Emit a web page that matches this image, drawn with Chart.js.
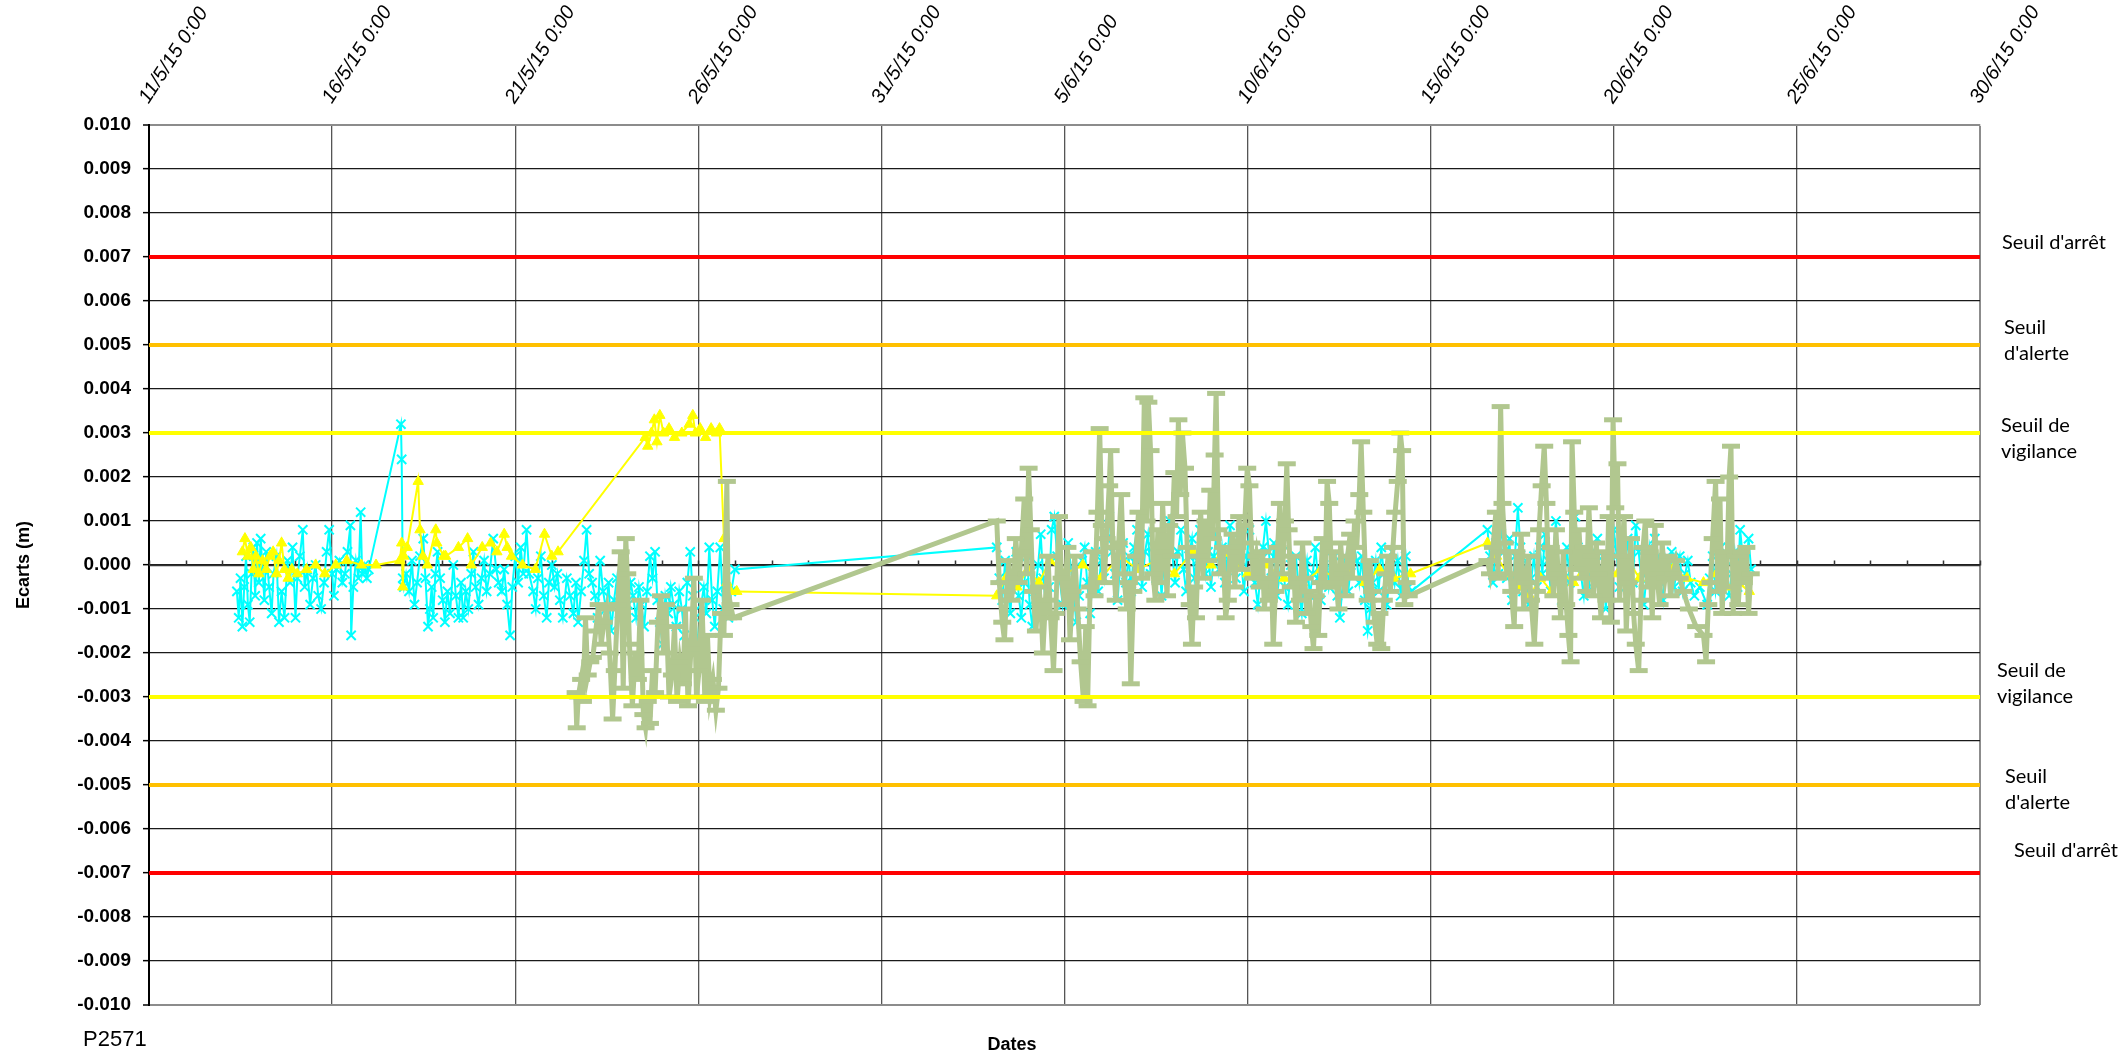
<!DOCTYPE html>
<html>
<head>
<meta charset="utf-8">
<script src="https://cdn.jsdelivr.net/npm/chart.js@4.4.1/dist/chart.umd.min.js"></script>
<style>
  body { margin: 0; background: #fff; }
  canvas { display: block; }
</style>
</head>
<body>
<canvas id="ecartsChart" width="2123" height="1054"></canvas>
<script>
// x = days since 11/5/15 0:00, y = ecart (m)
const dateLabels = ['11/5/15 0:00', '16/5/15 0:00', '21/5/15 0:00', '26/5/15 0:00', '31/5/15 0:00',
  '5/6/15 0:00', '10/6/15 0:00', '15/6/15 0:00', '20/6/15 0:00', '25/6/15 0:00', '30/6/15 0:00'];

const seuilArret = 0.007;
const seuilAlerte = 0.005;
const seuilVigilance = 0.003;

const cyanPoints = [
  [2.40,-0.0006],[2.45,-0.0012],[2.50,-0.0003],[2.55,-0.0014],[2.60,-0.0005],[2.65,0.0002],[2.70,-0.0009],[2.75,-0.0013],
  [2.80,-0.0002],[2.85,0.0004],[2.90,-0.0007],[2.95,0.0005],[3.00,-0.0004],[3.05,0.0006],[3.10,-0.0001],[3.15,-0.0008],
  [3.20,0.0003],[3.28,-0.0005],[3.35,-0.0011],[3.40,-0.0002],[3.48,0.0002],[3.55,-0.0013],[3.62,-0.0006],[3.70,-0.0012],
  [3.78,0.0001],[3.85,-0.0004],[3.92,0.0004],[4.00,-0.0012],[4.05,-0.0003],[4.12,0.0002],[4.20,0.0008],[4.25,-0.0005],
  [4.32,-0.0001],[4.40,-0.0009],[4.48,-0.0003],[4.55,0.0000],[4.62,-0.0007],[4.70,-0.0010],[4.78,-0.0004],[4.85,0.0003],
  [4.92,0.0008],[5.00,-0.0002],[5.05,-0.0007],[5.12,-0.0001],[5.20,0.0001],[5.28,-0.0004],[5.35,-0.0002],[5.42,0.0003],
  [5.50,0.0009],[5.52,-0.0016],[5.58,-0.0005],[5.65,0.0001],[5.72,-0.0003],[5.78,0.0012],[5.82,-0.0002],[5.88,0.0000],
  [5.95,-0.0003],[6.00,-0.0001],
  [6.88,0.0032],[6.90,0.0024],[6.93,-0.0003],[6.96,-0.0005],[7.02,-0.0002],[7.10,-0.0006],[7.18,0.0001],[7.25,-0.0009],
  [7.32,-0.0004],[7.40,0.0002],[7.49,0.0006],[7.55,-0.0003],[7.62,-0.0014],[7.67,-0.0010],[7.72,-0.0005],[7.76,-0.0012],
  [7.82,-0.0002],[7.88,0.0003],[7.95,-0.0003],[8.02,-0.0008],[8.08,-0.0013],[8.15,-0.0006],[8.22,-0.0011],[8.31,0.0000],
  [8.38,-0.0007],[8.45,-0.0012],[8.52,-0.0004],[8.58,-0.0012],[8.65,-0.0006],[8.72,-0.0010],[8.80,-0.0002],[8.86,0.0003],
  [8.92,-0.0005],[9.00,-0.0009],[9.08,-0.0003],[9.15,0.0001],[9.22,-0.0006],[9.30,-0.0002],[9.40,0.0006],[9.48,-0.0001],
  [9.55,-0.0004],[9.63,-0.0006],[9.70,-0.0001],[9.78,-0.0009],[9.86,-0.0016],[9.92,-0.0005],[10.00,0.0002],[10.08,-0.0004],
  [10.15,0.0004],[10.22,-0.0002],[10.31,0.0008],[10.38,-0.0002],[10.49,-0.0006],[10.56,-0.0010],[10.62,-0.0003],[10.70,0.0002],
  [10.78,-0.0007],[10.86,-0.0012],[10.92,-0.0004],[11.00,0.0000],[11.08,-0.0005],[11.15,-0.0002],[11.22,-0.0008],[11.30,-0.0012],
  [11.41,-0.0003],[11.50,-0.0007],[11.59,-0.0011],[11.66,-0.0004],[11.72,-0.0013],[11.80,-0.0006],[11.88,0.0001],[11.95,0.0008],
  [12.02,-0.0002],[12.10,-0.0004],[12.18,-0.0007],[12.25,-0.0012],[12.32,0.0001],[12.40,-0.0006],[12.48,-0.0010],[12.55,-0.0004],
  [12.62,-0.0015],[12.70,-0.0008],[12.78,-0.0003],[12.85,-0.0011],[12.92,-0.0006],[13.00,-0.0013],[13.08,-0.0009],[13.15,-0.0004],
  [13.22,-0.0007],[13.30,-0.0012],[13.38,-0.0005],[13.45,-0.0009],[13.52,-0.0014],[13.60,-0.0006],[13.68,0.0002],[13.75,-0.0003],
  [13.82,0.0003],[13.88,-0.0008],[13.95,-0.0013],[14.02,-0.0018],[14.10,-0.0007],[14.18,-0.0011],[14.25,-0.0005],[14.32,-0.0009],
  [14.40,-0.0014],[14.48,-0.0006],[14.55,-0.0010],[14.62,-0.0016],[14.70,-0.0004],[14.78,0.0003],[14.85,-0.0007],[14.92,-0.0012],
  [15.00,-0.0019],[15.08,-0.0009],[15.15,-0.0005],[15.22,-0.0011],[15.30,0.0004],[15.38,-0.0008],[15.45,-0.0014],[15.52,-0.0006],
  [15.60,0.0004],[15.68,-0.0010],[15.75,-0.0005],[15.82,-0.0012],[15.90,-0.0006],[16.00,-0.0001],
  [23.15,0.0004],[23.22,-0.0003],[23.30,-0.0008],[23.38,0.0001],[23.45,-0.0005],[23.52,-0.0011],[23.60,-0.0002],[23.68,0.0003],
  [23.75,-0.0007],[23.82,-0.0012],[23.90,-0.0004],[23.98,0.0002],[24.05,-0.0009],[24.12,-0.0014],[24.20,-0.0006],[24.28,0.0000],
  [24.35,0.0007],[24.42,-0.0003],[24.50,-0.0010],[24.58,-0.0005],[24.65,0.0008],[24.72,0.0011],[24.80,0.0002],[24.88,-0.0004],
  [24.95,-0.0009],[25.02,-0.0003],[25.10,0.0005],[25.18,-0.0001],[25.25,-0.0006],[25.32,-0.0013],[25.40,-0.0007],[25.48,0.0001],
  [25.55,0.0004],[25.62,-0.0004],[25.70,-0.0011],[25.78,-0.0002],[25.85,0.0003],[25.92,-0.0006],[26.00,0.0001],[26.08,-0.0003],
  [26.15,0.0006],[26.22,0.0011],[26.30,0.0003],[26.38,-0.0002],[26.45,-0.0008],[26.52,0.0000],[26.60,0.0005],[26.68,-0.0004],
  [26.75,0.0002],[26.82,-0.0006],[26.90,0.0004],[26.98,0.0008],[27.05,0.0001],[27.12,-0.0005],[27.20,0.0003],[27.28,0.0007],
  [27.35,-0.0002],[27.42,0.0004],[27.50,-0.0003],[27.58,0.0002],[27.65,-0.0007],[27.72,0.0001],[27.80,0.0006],[27.88,0.0010],
  [27.95,0.0002],[28.02,-0.0004],[28.10,0.0003],[28.18,0.0008],[28.25,-0.0001],[28.32,-0.0006],[28.40,0.0002],[28.48,0.0006],
  [28.55,-0.0003],[28.62,0.0001],[28.70,0.0008],[28.78,0.0004],[28.85,-0.0002],[28.92,0.0003],[29.00,-0.0005],[29.08,0.0002],
  [29.15,0.0007],[29.22,-0.0001],[29.30,0.0004],[29.38,-0.0004],[29.45,0.0002],[29.52,0.0009],[29.60,0.0003],[29.68,-0.0003],
  [29.75,0.0006],[29.82,0.0001],[29.90,-0.0006],[29.98,0.0002],[30.05,0.0008],[30.12,0.0002],[30.20,-0.0004],[30.28,-0.0009],
  [30.35,-0.0002],[30.42,0.0004],[30.50,0.0010],[30.58,0.0003],[30.65,-0.0003],[30.72,0.0005],[30.80,-0.0007],[30.88,-0.0002],
  [30.95,0.0003],[31.02,-0.0005],[31.10,-0.0009],[31.18,0.0000],[31.25,-0.0004],[31.32,0.0002],[31.40,-0.0006],[31.48,-0.0011],
  [31.55,-0.0003],[31.62,0.0001],[31.70,-0.0007],[31.78,-0.0002],[31.85,0.0004],[31.92,-0.0003],[32.00,-0.0008],[32.08,0.0000],
  [32.15,0.0003],[32.22,-0.0005],[32.30,-0.0001],[32.38,0.0002],[32.45,-0.0007],[32.52,-0.0012],[32.60,-0.0004],[32.68,0.0001],
  [32.75,-0.0006],[32.82,0.0000],[32.90,0.0005],[32.98,0.0001],[33.05,-0.0004],[33.12,0.0002],[33.20,-0.0008],[33.28,-0.0015],
  [33.35,-0.0010],[33.42,-0.0004],[33.50,0.0001],[33.58,-0.0006],[33.65,0.0004],[33.72,-0.0002],[33.80,-0.0009],[33.88,-0.0003],
  [33.95,0.0003],[34.02,-0.0004],[34.10,0.0001],[34.18,-0.0007],[34.25,-0.0002],[34.32,0.0002],[34.40,-0.0005],[34.47,-0.0006],
  [36.55,0.0008],[36.62,0.0002],[36.70,-0.0004],[36.78,0.0005],[36.85,-0.0002],[36.92,0.0009],[37.00,0.0003],[37.08,-0.0003],
  [37.15,0.0006],[37.22,-0.0008],[37.30,0.0002],[37.38,0.0013],[37.45,0.0004],[37.52,-0.0006],[37.60,0.0001],[37.68,-0.0009],
  [37.75,-0.0003],[37.82,0.0002],[37.90,-0.0005],[37.98,0.0004],[38.05,-0.0002],[38.12,0.0007],[38.20,0.0001],[38.28,-0.0006],
  [38.35,0.0003],[38.42,0.0010],[38.50,-0.0001],[38.58,-0.0008],[38.65,-0.0003],[38.72,0.0004],[38.80,-0.0004],[38.88,0.0002],
  [38.95,0.0011],[39.02,0.0004],[39.10,-0.0002],[39.18,-0.0007],[39.25,0.0001],[39.32,-0.0005],[39.40,0.0003],[39.48,-0.0001],
  [39.55,0.0006],[39.62,-0.0004],[39.70,0.0002],[39.78,-0.0010],[39.85,-0.0003],[39.92,0.0005],[40.00,0.0008],[40.08,0.0002],
  [40.15,-0.0005],[40.22,0.0003],[40.30,-0.0002],[40.38,0.0006],[40.45,0.0000],[40.52,-0.0004],[40.60,0.0009],[40.68,0.0003],
  [40.75,-0.0003],[40.82,-0.0009],[40.90,-0.0002],[40.98,0.0004],[41.05,-0.0001],[41.12,0.0006],[41.20,0.0002],[41.28,-0.0004],
  [41.35,-0.0008],[41.42,0.0001],[41.50,-0.0003],[41.58,0.0003],[41.65,-0.0005],[41.72,-0.0001],[41.80,0.0002],[41.88,-0.0006],
  [41.95,-0.0002],[42.02,0.0001],[42.10,-0.0004],[42.20,-0.0007],[42.35,-0.0005],[42.55,-0.0009],[42.62,-0.0003],[42.70,0.0002],
  [42.78,-0.0006],[42.85,-0.0002],[42.92,0.0004],[43.00,-0.0004],[43.08,0.0001],[43.15,-0.0007],[43.22,-0.0002],[43.30,0.0003],
  [43.38,-0.0005],[43.45,0.0008],[43.52,0.0002],[43.60,-0.0003],[43.68,0.0006],[43.75,-0.0001]
];

const yellowPoints = [
  [2.55,0.0003],[2.62,0.0006],[2.70,0.0002],[2.78,0.0004],[2.85,-0.0001],[2.92,0.0002],[3.00,-0.0002],[3.10,0.0001],
  [3.20,-0.0001],[3.30,0.0002],[3.39,0.0003],[3.48,-0.0002],[3.55,0.0001],[3.62,0.0005],[3.70,-0.0001],[3.80,-0.0003],
  [3.90,-0.0001],[4.05,-0.0002],[4.30,-0.0001],[4.55,0.0000],[4.80,-0.0002],[5.10,0.0000],[5.40,0.0001],[5.80,0.0000],
  [6.20,0.0000],[6.85,0.0001],[6.90,0.0005],[6.93,-0.0005],[6.96,0.0002],[7.05,0.0004],[7.35,0.0019],[7.40,0.0008],
  [7.48,0.0002],[7.60,0.0000],[7.83,0.0008],[7.86,0.0005],[8.05,0.0002],[8.10,0.0002],[8.45,0.0004],[8.70,0.0006],
  [8.80,0.0000],[9.10,0.0004],[9.33,0.0005],[9.50,0.0003],[9.70,0.0007],[9.78,0.0004],[9.90,0.0002],[10.20,0.0000],
  [10.55,-0.0001],[10.80,0.0007],[11.00,0.0002],[11.17,0.0003],
  [13.55,0.0029],[13.62,0.0027],[13.72,0.0030],[13.80,0.0033],[13.87,0.0028],[13.95,0.0034],[14.05,0.0030],[14.20,0.0031],
  [14.35,0.0029],[14.55,0.0030],[14.75,0.0032],[14.85,0.0034],[14.92,0.0030],[15.05,0.0031],[15.20,0.0029],[15.35,0.0031],
  [15.50,0.0030],[15.58,0.0031],[15.70,0.0006],[15.78,-0.0004],[15.88,-0.0006],[16.05,-0.0006],
  [23.15,-0.0007],[23.40,-0.0003],[23.70,-0.0005],[24.00,-0.0001],[24.30,-0.0004],[24.60,0.0001],[25.00,-0.0002],[25.50,0.0000],
  [26.00,-0.0003],[26.50,0.0002],[27.00,-0.0001],[27.50,0.0001],[28.00,-0.0002],[28.50,0.0003],[29.00,0.0000],[29.30,0.0003],
  [29.60,0.0001],[30.00,-0.0002],[30.50,0.0000],[31.00,-0.0003],[31.50,-0.0004],[32.00,-0.0001],[32.40,-0.0003],[32.80,-0.0002],
  [33.20,-0.0004],[33.60,-0.0001],[34.00,-0.0003],[34.45,-0.0002],
  [36.55,0.0005],[36.80,0.0002],[37.10,-0.0002],[37.40,-0.0005],[37.70,-0.0007],[38.00,-0.0003],[38.30,-0.0006],[38.60,-0.0002],
  [38.90,-0.0004],[39.20,0.0000],[39.50,-0.0003],[39.80,-0.0001],[40.10,-0.0002],[40.40,0.0001],[40.70,-0.0003],[41.00,0.0000],
  [41.30,-0.0002],[41.60,-0.0001],[42.00,-0.0003],[42.45,-0.0004],[42.80,-0.0002],[43.10,-0.0005],[43.40,-0.0004],[43.70,-0.0006]
];

const greenPoints = [
  [11.65,-0.0029],[11.68,-0.0037],[11.72,-0.0030],[11.80,-0.0026],[11.85,-0.0031],[11.92,-0.0012],[11.98,-0.0025],[12.05,-0.0022],
  [12.12,-0.0021],[12.20,-0.0015],[12.28,-0.0009],[12.35,-0.0018],[12.42,-0.0013],[12.50,-0.0010],[12.58,-0.0020],[12.66,-0.0035],
  [12.72,-0.0024],[12.80,-0.0009],[12.88,0.0003],[12.95,-0.0028],[13.02,0.0006],[13.06,-0.0002],[13.12,-0.0018],[13.20,-0.0032],
  [13.28,-0.0020],[13.35,-0.0026],[13.42,-0.0008],[13.50,-0.0034],[13.56,-0.0037],[13.62,-0.0031],[13.68,-0.0036],[13.75,-0.0024],
  [13.82,-0.0029],[13.90,-0.0013],[13.98,-0.0007],[14.05,-0.0020],[14.12,-0.0009],[14.20,-0.0030],[14.28,-0.0025],[14.35,-0.0014],
  [14.42,-0.0031],[14.50,-0.0022],[14.58,-0.0027],[14.65,-0.0010],[14.72,-0.0032],[14.80,-0.0019],[14.88,-0.0003],[14.95,-0.0030],
  [15.02,-0.0024],[15.10,-0.0008],[15.18,-0.0031],[15.25,-0.0016],[15.32,-0.0030],[15.40,-0.0026],[15.48,-0.0033],[15.55,-0.0028],
  [15.62,-0.0011],[15.70,-0.0016],[15.78,0.0019],[15.82,-0.0012],[15.88,-0.0009],[15.95,-0.0012],
  [23.15,0.0010],[23.22,-0.0004],[23.30,-0.0013],[23.36,-0.0017],[23.42,-0.0006],[23.48,0.0001],[23.55,-0.0008],[23.62,-0.0003],
  [23.67,0.0006],[23.75,-0.0004],[23.82,0.0003],[23.90,0.0015],[23.96,-0.0002],[24.02,0.0022],[24.08,0.0008],[24.14,-0.0006],
  [24.22,-0.0015],[24.30,-0.0005],[24.36,-0.0010],[24.41,-0.0020],[24.48,-0.0008],[24.55,0.0002],[24.62,-0.0012],[24.70,-0.0024],
  [24.76,-0.0011],[24.85,0.0011],[24.92,-0.0003],[25.00,-0.0009],[25.08,0.0004],[25.15,-0.0017],[25.22,-0.0006],[25.28,0.0002],
  [25.36,-0.0010],[25.44,-0.0022],[25.52,-0.0031],[25.58,-0.0014],[25.63,-0.0032],[25.70,-0.0005],[25.76,0.0003],[25.82,-0.0007],
  [25.90,0.0012],[25.96,0.0031],[26.02,0.0009],[26.08,-0.0004],[26.15,0.0006],[26.22,0.0018],[26.26,0.0026],[26.32,0.0004],
  [26.40,-0.0008],[26.48,0.0005],[26.55,0.0016],[26.62,-0.0002],[26.70,-0.0010],[26.76,-0.0004],[26.81,-0.0027],[26.88,-0.0006],
  [26.95,0.0002],[27.02,0.0012],[27.10,-0.0003],[27.18,0.0038],[27.24,0.0010],[27.29,0.0037],[27.35,0.0026],[27.42,-0.0002],
  [27.48,-0.0008],[27.55,0.0008],[27.62,-0.0004],[27.68,0.0014],[27.74,0.0003],[27.80,-0.0007],[27.86,0.0009],[27.92,0.0002],
  [28.00,0.0021],[28.06,0.0011],[28.11,0.0033],[28.16,0.0016],[28.22,0.0030],[28.29,0.0022],[28.35,0.0004],[28.42,-0.0009],
  [28.48,-0.0018],[28.54,-0.0005],[28.59,-0.0012],[28.65,0.0002],[28.72,0.0012],[28.78,-0.0003],[28.85,0.0010],[28.92,0.0001],
  [28.98,0.0017],[29.05,0.0006],[29.10,0.0025],[29.14,0.0039],[29.20,0.0008],[29.26,-0.0002],[29.33,0.0004],[29.40,-0.0012],
  [29.46,-0.0008],[29.52,0.0003],[29.59,0.0007],[29.65,-0.0005],[29.72,0.0004],[29.77,0.0011],[29.84,-0.0001],[29.92,0.0009],
  [29.99,0.0022],[30.05,0.0018],[30.10,0.0005],[30.16,-0.0003],[30.24,0.0002],[30.33,-0.0005],[30.40,0.0003],[30.46,-0.0010],
  [30.52,-0.0003],[30.58,-0.0008],[30.64,0.0001],[30.70,-0.0018],[30.76,-0.0006],[30.82,0.0004],[30.88,0.0014],[30.95,-0.0002],
  [31.02,0.0010],[31.07,0.0023],[31.12,0.0008],[31.18,-0.0005],[31.25,0.0002],[31.32,-0.0013],[31.38,-0.0004],[31.43,-0.0008],
  [31.50,0.0005],[31.56,-0.0003],[31.62,-0.0011],[31.68,-0.0006],[31.74,-0.0014],[31.80,-0.0019],[31.86,-0.0007],[31.93,-0.0016],
  [31.99,-0.0004],[32.05,0.0006],[32.11,-0.0005],[32.17,0.0019],[32.23,0.0014],[32.30,-0.0005],[32.36,0.0003],[32.42,-0.0004],
  [32.48,-0.0010],[32.54,0.0005],[32.60,-0.0002],[32.67,-0.0007],[32.73,0.0002],[32.80,0.0007],[32.86,-0.0003],[32.92,0.0010],
  [32.98,0.0004],[33.05,0.0016],[33.10,0.0028],[33.16,0.0012],[33.22,-0.0003],[33.28,-0.0008],[33.34,0.0001],[33.40,-0.0006],
  [33.47,-0.0013],[33.54,-0.0018],[33.60,-0.0011],[33.65,-0.0019],[33.72,-0.0008],[33.78,-0.0002],[33.84,0.0002],[33.90,-0.0006],
  [33.97,0.0004],[34.03,0.0012],[34.10,0.0019],[34.17,0.0030],[34.22,0.0026],[34.28,-0.0009],[34.34,-0.0004],[34.40,-0.0007],
  [36.55,0.0001],[36.62,-0.0002],[36.70,0.0004],[36.78,0.0012],[36.84,-0.0003],[36.91,0.0036],[36.96,0.0014],[37.02,0.0005],
  [37.08,-0.0002],[37.14,0.0003],[37.20,-0.0006],[37.28,-0.0014],[37.34,0.0003],[37.40,-0.0004],[37.47,0.0007],[37.54,-0.0010],
  [37.60,-0.0004],[37.67,0.0002],[37.74,-0.0008],[37.83,-0.0018],[37.90,-0.0006],[37.96,0.0008],[38.03,0.0018],[38.10,0.0027],
  [38.16,0.0014],[38.22,-0.0003],[38.28,0.0004],[38.35,-0.0007],[38.42,0.0008],[38.48,-0.0002],[38.55,-0.0012],[38.62,0.0003],
  [38.70,-0.0009],[38.76,-0.0016],[38.82,-0.0022],[38.86,0.0028],[38.92,0.0012],[38.98,-0.0001],[39.05,0.0008],[39.12,-0.0003],
  [39.18,0.0004],[39.25,-0.0006],[39.32,0.0013],[39.38,0.0002],[39.45,-0.0007],[39.52,0.0005],[39.58,-0.0002],[39.65,-0.0012],
  [39.72,0.0003],[39.80,-0.0008],[39.86,0.0011],[39.92,-0.0013],[39.98,0.0033],[40.04,0.0013],[40.10,0.0023],[40.16,-0.0008],
  [40.22,0.0002],[40.28,0.0011],[40.34,-0.0015],[40.40,-0.0004],[40.47,0.0006],[40.54,-0.0011],[40.60,-0.0018],[40.68,-0.0024],
  [40.74,-0.0008],[40.80,0.0004],[40.86,0.0010],[40.92,-0.0005],[40.98,0.0003],[41.05,-0.0012],[41.12,0.0009],[41.18,-0.0002],
  [41.25,-0.0009],[41.32,0.0005],[41.40,-0.0003],[41.48,0.0002],[41.55,-0.0007],[41.62,-0.0002],[41.70,0.0001],[41.80,-0.0003],
  [41.90,-0.0006],[42.05,-0.0010],[42.25,-0.0014],[42.45,-0.0016],[42.52,-0.0022],[42.58,-0.0009],[42.64,-0.0004],[42.70,0.0006],
  [42.78,0.0019],[42.84,-0.0006],[42.90,0.0015],[42.96,-0.0011],[43.02,0.0003],[43.08,-0.0005],[43.15,0.0020],[43.20,0.0027],
  [43.26,-0.0011],[43.32,0.0002],[43.40,-0.0009],[43.48,0.0003],[43.55,-0.0004],[43.62,0.0004],[43.68,-0.0011],[43.74,-0.0002]
];

const toXY = (pts) => pts.map(([d, v]) => ({ x: d, y: v }));

const thresholdLine = (value, color) => ({
  data: [{ x: 0, y: value }, { x: 50, y: value }],
  borderColor: color,
  borderWidth: 4,
  pointRadius: 0,
  order: 0,
});

// zero axis with daily tick marks (Excel style)
const zeroAxis = {
  id: 'zeroAxis',
  beforeDatasetsDraw(chart) {
    const { ctx, scales: { x, y } } = chart;
    const py = Math.round(y.getPixelForValue(0)) + 0.5;
    ctx.save();
    ctx.strokeStyle = '#333';
    ctx.lineWidth = 1.5;
    ctx.beginPath();
    ctx.moveTo(x.left, py);
    ctx.lineTo(x.right, py);
    for (let d = x.min; d <= x.max; d++) {
      const px = Math.round(x.getPixelForValue(d)) + 0.5;
      ctx.moveTo(px, py);
      ctx.lineTo(px, py - 5);
    }
    ctx.stroke();
    ctx.restore();
  },
};

const notes = {
  id: 'notes',
  afterDraw(chart) {
    const ctx = chart.ctx;
    ctx.save();
    ctx.fillStyle = '#000';
    ctx.textAlign = 'left';
    ctx.textBaseline = 'alphabetic';
    ctx.font = '20px Lato';
    const seuils = [
      [2002, 249, "Seuil d'arrêt"], [2004, 334, 'Seuil'], [2004, 360, "d'alerte"],
      [2001, 432, 'Seuil de'], [2001, 458, 'vigilance'],
      [1997, 677, 'Seuil de'], [1997, 703, 'vigilance'],
      [2005, 783, 'Seuil'], [2005, 809, "d'alerte"], [2014, 857, "Seuil d'arrêt"],
    ];
    seuils.forEach(([x, y, t]) => ctx.fillText(t, x, y));

    ctx.font = '22px "Liberation Sans", Arial, sans-serif';
    ctx.fillText('P2571', 83, 1046);

    ctx.font = 'bold 18px "Liberation Sans", Arial, sans-serif';
    ctx.textAlign = 'center';
    ctx.fillText('Dates', 1012, 1050);

    ctx.translate(24, 565);
    ctx.rotate(-Math.PI / 2);
    ctx.textBaseline = 'middle';
    ctx.fillText('Ecarts (m)', 0, 0);
    ctx.restore();
  },
};

const edge = '#8c8c8c';

new Chart(document.getElementById('ecartsChart'), {
  type: 'line',
  data: {
    datasets: [
      thresholdLine(seuilArret, '#FF0000'),
      thresholdLine(seuilAlerte, '#FFC000'),
      thresholdLine(seuilVigilance, '#FFFF00'),
      thresholdLine(-seuilVigilance, '#FFFF00'),
      thresholdLine(-seuilAlerte, '#FFC000'),
      thresholdLine(-seuilArret, '#FF0000'),
      {
        data: toXY(greenPoints),
        borderColor: '#B1C78F',
        borderWidth: 5,
        pointStyle: 'line',
        pointRadius: 9,
        pointBorderWidth: 5,
        pointBorderColor: '#B1C78F',
        order: 1,
      },
      {
        data: toXY(yellowPoints),
        borderColor: '#FFFF00',
        borderWidth: 2,
        pointStyle: 'triangle',
        pointRadius: 6,
        pointBorderWidth: 1,
        pointBorderColor: '#FFFF00',
        pointBackgroundColor: '#FFFF00',
        order: 2,
      },
      {
        data: toXY(cyanPoints),
        borderColor: '#00FFFF',
        borderWidth: 2,
        pointStyle: 'crossRot',
        pointRadius: 6.5,
        pointBorderWidth: 2,
        pointBorderColor: '#00FFFF',
        order: 3,
      },
    ],
  },
  options: {
    responsive: false,
    animation: false,
    devicePixelRatio: 1,
    layout: { padding: { left: 0, right: 143, top: 0, bottom: 49 } },
    plugins: {
      legend: { display: false },
      tooltip: { enabled: false },
    },
    scales: {
      x: {
        type: 'linear',
        position: 'top',
        min: 0,
        max: 50,
        afterFit: (scale) => { scale.height = 125; },
        ticks: {
          stepSize: 5,
          autoSkip: false,
          minRotation: 57,
          maxRotation: 57,
          padding: 17,
          labelOffset: 15,
          color: '#000',
          font: { family: '"Liberation Sans", Arial, sans-serif', size: 20, style: 'italic' },
          callback: (v) => dateLabels[Math.round(v / 5)],
        },
        grid: {
          drawTicks: false,
          color: (c) => (c.tick && c.tick.value === 50 ? edge : '#555'),
          lineWidth: (c) => (c.tick && c.tick.value === 50 ? 2 : 1.3),
        },
        border: { color: edge, width: 2 },
      },
      y: {
        min: -0.01,
        max: 0.01,
        afterFit: (scale) => { scale.width = 149; },
        ticks: {
          stepSize: 0.001,
          padding: 12,
          color: '#000',
          font: { family: '"Liberation Sans", Arial, sans-serif', size: 19, weight: 'bold' },
          callback: (v) => (Math.abs(v) < 1e-9 ? '0.000' : v.toFixed(3)),
        },
        grid: {
          tickLength: 6,
          tickColor: '#000',
          tickWidth: 1.5,
          color: (c) => (c.tick && Math.abs(Math.abs(c.tick.value) - 0.01) < 1e-9 ? edge : '#1a1a1a'),
          lineWidth: (c) => (c.tick && Math.abs(Math.abs(c.tick.value) - 0.01) < 1e-9 ? 2 : 1.3),
        },
        border: { color: '#000', width: 2 },
      },
    },
  },
  plugins: [zeroAxis, notes],
});
</script>
</body>
</html>
